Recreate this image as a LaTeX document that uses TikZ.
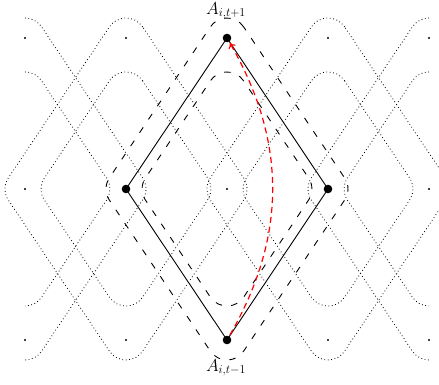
\documentclass[tikz,border=0pt]{standalone}
\usetikzlibrary{arrows.meta,calc}
\begin{document}
\begin{tikzpicture}[x=1pt,y=1pt,
  vdot/.style={circle,fill=black,inner sep=0pt,minimum size=8.6pt,outer sep=1.5pt},
  gdot/.style={circle,fill=black,inner sep=0pt,minimum size=2.4pt},
  edgeline/.style={line width=0.9pt},
  dashcurve/.style={line width=0.9pt,dash pattern=on 6.5pt off 9.5pt},
  dotcurve/.style={line width=0.8pt,dash pattern=on 0.8pt off 2.6pt},
  redarrow/.style={red,line width=1.2pt,dash pattern=on 6pt off 4pt,-{To[length=5pt,width=8pt]}},
  lbl/.style={font=\fontsize{17.5}{20}\selectfont,inner sep=0pt,anchor=base}
]
\useasboundingbox (0,0) rectangle (439,384);

% dotted neighbouring regions (full copies)
\foreach \cx in {126,328}{
  \draw[dotcurve] ($(\cx,346)+(33.78:20pt)$) arc[start angle=33.78,end angle=146.22,radius=20pt]
    -- ($(\cx-101,195)+(146.22:20pt)$) arc[start angle=146.22,end angle=213.78,radius=20pt]
    -- ($(\cx,44)+(213.78:20pt)$) arc[start angle=213.78,end angle=326.22,radius=20pt]
    -- ($(\cx+101,195)+(-33.78:20pt)$) arc[start angle=-33.78,end angle=33.78,radius=20pt]
    -- cycle;
  \draw[dotcurve] ($(\cx,292.04)+(33.78:20pt)$) arc[start angle=33.78,end angle=146.22,radius=20pt]
    -- ($(\cx-64.91,195)+(146.22:20pt)$) arc[start angle=146.22,end angle=213.78,radius=20pt]
    -- ($(\cx,97.96)+(213.78:20pt)$) arc[start angle=213.78,end angle=326.22,radius=20pt]
    -- ($(\cx+64.91,195)+(-33.78:20pt)$) arc[start angle=-33.78,end angle=33.78,radius=20pt]
    -- cycle;
}
% dotted half copies at the borders
\draw[dotcurve] ($(25,346)+(90:20pt)$) arc[start angle=90,end angle=33.78,radius=20pt]
  -- ($(126,195)+(33.78:20pt)$) arc[start angle=33.78,end angle=-33.78,radius=20pt]
  -- ($(25,44)+(-33.78:20pt)$) arc[start angle=-33.78,end angle=-90,radius=20pt];
\draw[dotcurve] ($(25,292.04)+(90:20pt)$) arc[start angle=90,end angle=33.78,radius=20pt]
  -- ($(89.91,195)+(33.78:20pt)$) arc[start angle=33.78,end angle=-33.78,radius=20pt]
  -- ($(25,97.96)+(-33.78:20pt)$) arc[start angle=-33.78,end angle=-90,radius=20pt];
\draw[dotcurve] ($(429,346)+(90:20pt)$) arc[start angle=90,end angle=146.22,radius=20pt]
  -- ($(328,195)+(146.22:20pt)$) arc[start angle=146.22,end angle=213.78,radius=20pt]
  -- ($(429,44)+(213.78:20pt)$) arc[start angle=213.78,end angle=270,radius=20pt];
\draw[dotcurve] ($(429,292.04)+(90:20pt)$) arc[start angle=90,end angle=146.22,radius=20pt]
  -- ($(364.09,195)+(146.22:20pt)$) arc[start angle=146.22,end angle=213.78,radius=20pt]
  -- ($(429,97.96)+(213.78:20pt)$) arc[start angle=213.78,end angle=270,radius=20pt];

% dashed region around the central diamond
\draw[dashcurve] ($(227,346)+(33.78:20pt)$) arc[start angle=33.78,end angle=146.22,radius=20pt]
  -- ($(126,195)+(146.22:20pt)$) arc[start angle=146.22,end angle=213.78,radius=20pt]
  -- ($(227,44)+(213.78:20pt)$) arc[start angle=213.78,end angle=326.22,radius=20pt]
  -- ($(328,195)+(-33.78:20pt)$) arc[start angle=-33.78,end angle=33.78,radius=20pt]
  -- cycle;
\draw[dashcurve] ($(227,292.04)+(33.78:20pt)$) arc[start angle=33.78,end angle=146.22,radius=20pt]
  -- ($(162.09,195)+(146.22:20pt)$) arc[start angle=146.22,end angle=213.78,radius=20pt]
  -- ($(227,97.96)+(213.78:20pt)$) arc[start angle=213.78,end angle=326.22,radius=20pt]
  -- ($(291.91,195)+(-33.78:20pt)$) arc[start angle=-33.78,end angle=33.78,radius=20pt]
  -- cycle;

% grid points
\node[gdot] (g1) at (25,346) {};
\node[gdot] (g2) at (126,346) {};
\node[gdot] (g3) at (328,346) {};
\node[gdot] (g4) at (429,346) {};
\node[gdot] (g5) at (25,195) {};
\node[gdot] (g6) at (227,195) {};
\node[gdot] (g7) at (429,195) {};
\node[gdot] (g8) at (25,44) {};
\node[gdot] (g9) at (126,44) {};
\node[gdot] (g10) at (328,44) {};
\node[gdot] (g11) at (429,44) {};

% main vertices
\node[vdot] (top) at (227,346) {};
\node[vdot] (left) at (126,195) {};
\node[vdot] (right) at (328,195) {};
\node[vdot] (bot) at (227,44) {};

\draw[edgeline] (top.center) -- (left.center) -- (bot.center) -- (right.center) -- (top.center);

\draw[redarrow] (bot) to[bend right=30] (top);

\node[lbl] (ltop) at (226,370) {$A_{i,t+1}$};
\node[lbl] (lbot) at (226,13) {$A_{i,t-1}$};
\end{tikzpicture}
\end{document}
